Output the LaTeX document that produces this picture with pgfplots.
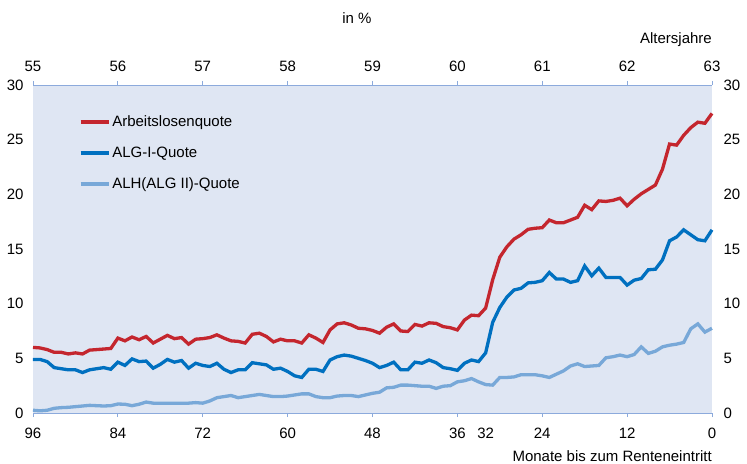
\documentclass[border=0pt]{standalone}
\usepackage{pgfplots}
\pgfplotsset{compat=1.18}
\usepackage{pgfplotstable}
\usepackage{fontspec}
\setmainfont{Liberation Sans}

\definecolor{quoteRed}{RGB}{196,38,46}
\definecolor{algBlue}{RGB}{0,112,192}
\definecolor{alhBlue}{RGB}{120,168,216}
\definecolor{plotBg}{RGB}{223,230,243}
\definecolor{axisLine}{RGB}{140,170,220}

% m = Monate bis zum Renteneintritt, a = Arbeitslosenquote, b = ALG-I-Quote, c = ALH(ALG II)-Quote
\pgfplotstableread{
m a b c
96 6.0 4.9 0.25
95 5.95 4.9 0.2
94 5.8 4.7 0.25
93 5.55 4.15 0.43
92 5.55 4.05 0.49
91 5.4 3.95 0.52
90 5.5 3.95 0.58
89 5.4 3.7 0.64
88 5.75 3.95 0.7
87 5.8 4.05 0.67
86 5.85 4.15 0.64
85 5.9 4.0 0.67
84 6.85 4.65 0.82
83 6.6 4.35 0.8
82 6.95 4.95 0.67
81 6.7 4.7 0.8
80 7.0 4.75 1.0
79 6.4 4.1 0.9
78 6.75 4.45 0.9
77 7.1 4.9 0.9
76 6.8 4.65 0.9
75 6.9 4.8 0.9
74 6.3 4.1 0.9
73 6.75 4.55 0.95
72 6.8 4.35 0.9
71 6.9 4.25 1.1
70 7.15 4.55 1.4
69 6.85 4.0 1.5
68 6.6 3.7 1.6
67 6.55 3.95 1.4
66 6.4 3.95 1.5
65 7.2 4.6 1.6
64 7.3 4.5 1.7
63 7.0 4.4 1.6
62 6.5 4.0 1.5
61 6.75 4.1 1.5
60 6.6 3.8 1.55
59 6.6 3.4 1.65
58 6.4 3.25 1.75
57 7.15 4.0 1.75
56 6.85 4.0 1.5
55 6.45 3.8 1.4
54 7.6 4.85 1.4
53 8.15 5.15 1.55
52 8.25 5.3 1.6
51 8.05 5.2 1.6
50 7.75 5.0 1.5
49 7.7 4.8 1.65
48 7.55 4.55 1.8
47 7.3 4.15 1.9
46 7.85 4.35 2.3
45 8.15 4.65 2.35
44 7.5 3.95 2.55
43 7.45 3.95 2.55
42 8.1 4.65 2.5
41 7.95 4.55 2.45
40 8.25 4.85 2.45
39 8.2 4.6 2.25
38 7.9 4.15 2.45
37 7.8 4.05 2.5
36 7.6 3.9 2.85
35 8.5 4.55 2.95
34 8.95 4.85 3.15
33 8.9 4.7 2.85
32 9.6 5.5 2.6
31 12.2 8.3 2.55
30 14.25 9.65 3.25
29 15.2 10.6 3.25
28 15.9 11.25 3.3
27 16.3 11.4 3.5
26 16.8 11.9 3.5
25 16.9 11.95 3.5
24 16.95 12.1 3.4
23 17.65 12.85 3.25
22 17.4 12.25 3.55
21 17.4 12.25 3.85
20 17.65 11.95 4.3
19 17.9 12.1 4.5
18 19.0 13.45 4.25
17 18.6 12.55 4.3
16 19.4 13.25 4.35
15 19.35 12.4 5.05
14 19.45 12.4 5.15
13 19.65 12.4 5.3
12 18.95 11.7 5.15
11 19.55 12.15 5.35
10 20.05 12.3 6.05
9 20.45 13.1 5.45
8 20.85 13.15 5.65
7 22.3 14.0 6.05
6 24.6 15.75 6.2
5 24.5 16.1 6.3
4 25.4 16.75 6.45
3 26.1 16.3 7.7
2 26.6 15.85 8.15
1 26.5 15.75 7.4
0 27.4 16.75 7.75
}\quoten

\begin{document}
\begin{tikzpicture}[font=\fontsize{15bp}{18bp}\selectfont]
\pgfplotsset{
  every axis/.append style={
    scale only axis, width=679bp, height=328bp,
    ymin=0, ymax=30, clip=false,
    /pgf/number format/assume math mode=true,
    tick align=outside, major tick length=4bp,
    tick style={axisLine, line width=0.8bp},
  },
}
\begin{axis}[
  at={(0,0)}, anchor=south west,
  x dir=reverse, xmin=0, xmax=96,
  axis x line*=bottom, axis y line*=left,
  x axis line style={axisLine, line width=0.8bp, -},
  y axis line style={draw=none},
  ytick style={draw=none},
  axis background/.style={fill=plotBg},
  xtick={96,84,72,60,48,36,24,12,0},
  extra x ticks={32},
  extra x tick style={tick style={draw=none}},
  ytick={0,5,...,30},
  xticklabel style={yshift=-8bp},
  yticklabel style={xshift=-2bp},
  legend style={at={(axis description cs:0.063,0.915)}, anchor=north west,
    draw=none, fill=none, row sep=17bp,
    nodes={inner sep=0pt, text height=11bp, text depth=3bp},
    /tikz/every odd column/.append style={column sep=2bp}},
  legend cell align=left,
  legend image code/.code={\draw[#1] (0bp,0bp) -- (28bp,0bp);},
]
\addplot[quoteRed, line width=3.3bp] table[x=m, y=a] {\quoten};
\addlegendentry{Arbeitslosenquote}
\addplot[algBlue, line width=3.3bp] table[x=m, y=b] {\quoten};
\addlegendentry{ALG-I-Quote}
\addplot[alhBlue, line width=3.3bp] table[x=m, y=c] {\quoten};
\addlegendentry{ALH(ALG II)-Quote}
\node[anchor=east, inner sep=0pt] at (axis description cs:1,0) [yshift=-43bp] {Monate bis zum Renteneintritt};
\end{axis}
\begin{axis}[
  at={(0,0)}, anchor=south west,
  xmin=55, xmax=63,
  axis x line*=top, axis y line*=right,
  x axis line style={axisLine, line width=0.8bp, -},
  y axis line style={draw=none},
  ytick style={draw=none},
  xtick={55,...,63},
  ytick={0,5,...,30},
  xticklabel style={yshift=6bp},
  yticklabel style={xshift=4bp},
]
\node[anchor=east, inner sep=0pt] at (axis description cs:1,1) [yshift=45bp] {Altersjahre};
\node at (axis description cs:0.477,1) [yshift=67bp] {in \%};
\end{axis}
\pgfresetboundingbox
\useasboundingbox (-33bp,-51bp) rectangle (714bp,413bp);
\end{tikzpicture}
\end{document}
